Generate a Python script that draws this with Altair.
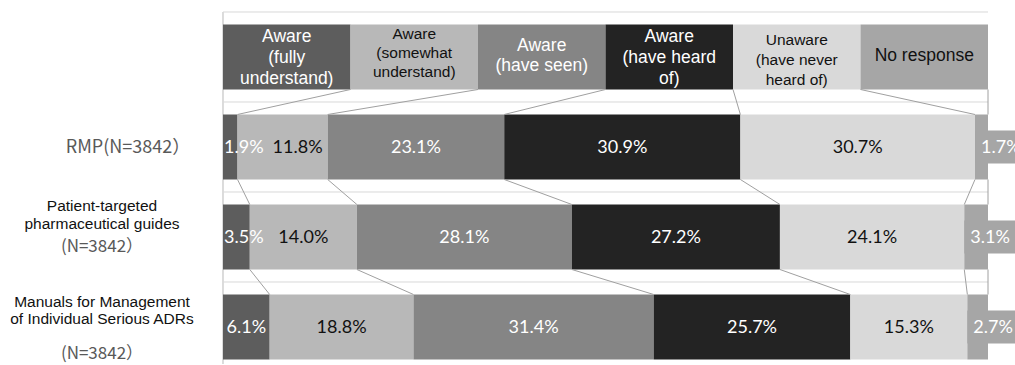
import altair as alt
import pandas as pd

# ---- data ----
series = [
    "Aware (fully understand)",
    "Aware (somewhat understand)",
    "Aware (have seen)",
    "Aware (have heard of)",
    "Unaware (have never heard of)",
    "No response",
]
header_lines = [
    "Aware\n(fully\nunderstand)",
    "Aware\n(somewhat\nunderstand)",
    "Aware\n(have seen)",
    "Aware\n(have heard\nof)",
    "Unaware\n(have never\nheard of)",
    "No response",
]
header_weights = [1, 1, 1, 1, 1, 1]

row_keys = ["RMP", "Patient", "Manuals"]
row_names = ["RMP(N=3842）",
             "Patient-targeted\npharmaceutical guides",
             "Manuals for Management\nof Individual Serious ADRs"]
row_n = ["", "(N=3842）", "(N=3842）"]

rmp = [1.9, 11.8, 23.1, 30.9, 30.7, 1.7]
patient = [3.5, 14.0, 28.1, 27.2, 24.1, 3.1]
manuals = [6.1, 18.8, 31.4, 25.7, 15.3, 2.7]

palette = ["#5d5d5d", "#b8b8b8", "#858585", "#232323", "#d9d9d9", "#a6a6a6"]

# ---- tables ----
ydomain = ["header"] + row_keys
all_rows = [("header", header_weights), ("RMP", rmp), ("Patient", patient), ("Manuals", manuals)]

records = []
ends = {}
for key, vals in all_rows:
    total = sum(vals)
    cum = 0.0
    ends[key] = []
    prev_small = False
    for i, (s, v) in enumerate(zip(series, vals)):
        start = cum / total * 100
        cum += v
        end = cum / total * 100
        ends[key].append(end)
        if i == 5:
            mode = "box"
        elif v < 5:
            mode = "left"
        elif prev_small and vals[i - 1] < 2.5:
            mode = "shift"
        else:
            mode = "center"
        prev_small = v < 5
        records.append(dict(row=key, series=s, idx=i, value=v, start=start, end=end,
                            mid=(start + end) / 2, label=f"{v:.1f}%",
                            htext=header_lines[i], mode=mode))
df = pd.DataFrame(records)
data_df = df[df.row != "header"]
head_df = df[df.row == "header"]

conn = []
for a, b in zip(ydomain[:-1], ydomain[1:]):
    for k in range(6):
        conn.append(dict(row=a, row2=b, x=ends[a][k], x2=ends[b][k]))
conn_df = pd.DataFrame(conn)

grid_df = pd.DataFrame({"row": ydomain})
lab_df = pd.DataFrame({"row": row_keys, "name": row_names, "n": row_n})

W, H = 765, 352
y_scale = alt.Scale(domain=ydomain, paddingInner=0.2778, paddingOuter=0.0944, align=0.735)
x_scale = alt.Scale(domain=[0, 100], nice=False, zero=False)
Y = alt.Y("row:N", scale=y_scale, axis=None)

grid = alt.Chart(grid_df).mark_rule(color="#d9d9d9", strokeWidth=1, yOffset=-45).encode(
    y=Y, x=alt.value(0), x2=alt.value(W))
left_line = alt.Chart(grid_df).mark_rule(color="#d9d9d9", strokeWidth=1).encode(
    x=alt.value(0), y=alt.value(0), y2=alt.value(H))

bars = alt.Chart(df).mark_bar().encode(
    y=Y,
    x=alt.X("start:Q", scale=x_scale, axis=None, stack=None),
    x2="end:Q",
    fill=alt.Fill("series:N", scale=alt.Scale(domain=series, range=palette), legend=None),
)

connectors = alt.Chart(conn_df).mark_rule(color="#a0a0a0", strokeWidth=1,
                                          yOffset=32.5, y2Offset=-32.5).encode(
    x=alt.X("x:Q", scale=x_scale), x2="x2:Q", y=Y, y2="row2:N")

boxes = alt.Chart(data_df).transform_filter(alt.datum.mode == "box").mark_bar(
    height=33, color=palette[5]).encode(
    y=Y, x=alt.X("start:Q", scale=x_scale, stack=None), x2=alt.value(W + 27))

dark_text = alt.FieldOneOfPredicate(field="series", oneOf=[series[1], series[4]])
lbl_font = dict(font="Lato", fontSize=18, baseline="middle", dy=1.5)
lbl_color = alt.condition(dark_text, alt.value("#111111"), alt.value("#ffffff"))


def data_labels(mode, align, xfield, dx):
    return alt.Chart(data_df).transform_filter(alt.datum.mode == mode).mark_text(
        align=align, dx=dx, **lbl_font).encode(
        y=Y, x=alt.X(f"{xfield}:Q", scale=x_scale), text="label:N", color=lbl_color)


lab_center = data_labels("center", "center", "mid", 0)
lab_shift = data_labels("shift", "center", "mid", 15)
lab_left = data_labels("left", "left", "start", 1)
lab_box = data_labels("box", "left", "start", 6)

head_dark = alt.FieldOneOfPredicate(field="series", oneOf=[series[1], series[4], series[5]])


def head_text(idxs, size, lh, dy):
    return alt.Chart(head_df).transform_filter(
        alt.FieldOneOfPredicate(field="idx", oneOf=idxs)).mark_text(
        font="Liberation Sans", fontSize=size, lineHeight=lh, lineBreak="\n",
        align="center", baseline="middle", dy=dy).encode(
        y=Y, x=alt.X("mid:Q", scale=x_scale), text="htext:N",
        color=alt.condition(head_dark, alt.value("#111111"), alt.value("#ffffff")))


head_layers = [
    head_text([0, 3], 17.5, 21, -19.5),
    head_text([2], 17.5, 20, -10.5),
    head_text([5], 17.5, 20, -1),
    head_text([1], 15.5, 19, -22.5),
    head_text([4], 15.5, 20, -16.5),
]

rmp_lab = alt.Chart(lab_df).transform_filter(alt.datum.row == "RMP").mark_text(
    font="Noto Sans CJK JP", fontSize=18, color="#595959", align="center",
    baseline="middle", dy=1.5).encode(y=Y, x=alt.value(-95), text="name:N")
pat_lab = alt.Chart(lab_df).transform_filter(alt.datum.row == "Patient").mark_text(
    font="Liberation Sans", fontSize=15.5, lineHeight=18, lineBreak="\n", color="#111111",
    align="center", baseline="middle", dy=-30.5).encode(y=Y, x=alt.value(-121), text="name:N")
pat_n = alt.Chart(lab_df).transform_filter(alt.datum.row == "Patient").mark_text(
    font="Noto Sans CJK JP", fontSize=17, color="#595959", align="center",
    baseline="middle", dy=10).encode(y=Y, x=alt.value(-121), text="n:N")
man_lab = alt.Chart(lab_df).transform_filter(alt.datum.row == "Manuals").mark_text(
    font="Liberation Sans", fontSize=15.5, lineHeight=17.5, lineBreak="\n", color="#111111",
    align="center", baseline="middle", dy=-25).encode(y=Y, x=alt.value(-121), text="name:N")
man_n = alt.Chart(lab_df).transform_filter(alt.datum.row == "Manuals").mark_text(
    font="Noto Sans CJK JP", fontSize=17, color="#595959", align="center",
    baseline="middle", dy=27.5).encode(y=Y, x=alt.value(-121), text="n:N")

chart = alt.layer(
    grid, left_line, bars, connectors, boxes,
    lab_center, lab_shift, lab_left, lab_box, *head_layers,
    rmp_lab, pat_lab, pat_n, man_lab, man_n,
).properties(
    width=W, height=H,
    padding={"left": 223, "top": 12, "right": 27, "bottom": 1},
    autosize=alt.AutoSizeParams(type="none"),
    background="#ffffff",
).configure_view(stroke=None)

chart.save("out.html", embed_options={"renderer": "svg", "actions": False})
